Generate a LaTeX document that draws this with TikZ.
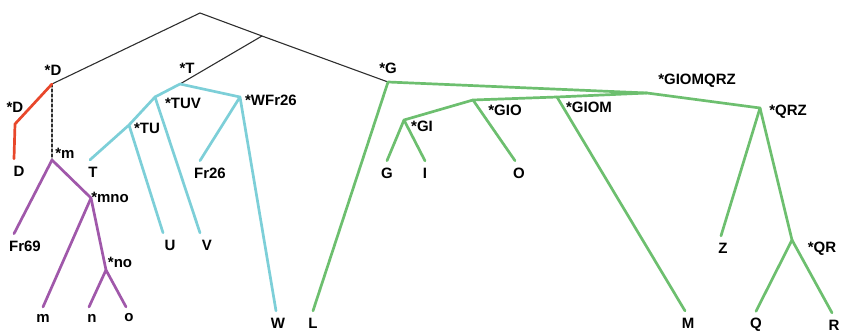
\documentclass[tikz,border=0pt]{standalone}
\usepackage{fontspec}
\setmainfont{Liberation Sans}
\definecolor{cladeRed}{HTML}{E8472B}
\definecolor{cladePurple}{HTML}{A058AA}
\definecolor{cladeCyan}{HTML}{7DCFD8}
\definecolor{cladeGreen}{HTML}{6DBF6F}
\definecolor{stemGray}{HTML}{2E2E2E}
\begin{document}
\begin{tikzpicture}[x=1pt,y=-1pt,font=\bfseries\fontsize{15}{15}\selectfont,line join=round,line cap=round]
  \tikzset{tag/.style={inner sep=0pt},
    leaf/.style={inner sep=1pt, outer sep=6pt},
    stem/.style={draw=stemGray, line width=1.1pt},
    redline/.style={draw=cladeRed, line width=2.7pt},
    purpleline/.style={draw=cladePurple, line width=2.7pt},
    cyanline/.style={draw=cladeCyan, line width=2.7pt},
    greenline/.style={draw=cladeGreen, line width=2.7pt}}
  \useasboundingbox (0,0) rectangle (841,334);
  % branch points
  \coordinate (root) at (200,13);
  \coordinate (rj) at (262,36);
  \coordinate (cD) at (52,84);
  \coordinate (cDp) at (15,124);
  \coordinate (cm) at (52,160);
  \coordinate (cmno) at (91,198);
  \coordinate (cno) at (106,270);
  \coordinate (cT) at (180,84);
  \coordinate (cTUV) at (155,97);
  \coordinate (cTU) at (129,125);
  \coordinate (cWFr) at (240,97);
  \coordinate (cG) at (388,82);
  \coordinate (cGIOMQRZ) at (647,93);
  \coordinate (cGIOM) at (557,97);
  \coordinate (cGIO) at (473,100);
  \coordinate (cGI) at (404,120);
  \coordinate (cQRZ) at (760,108);
  \coordinate (cQR) at (792,240);
  % clade tags
  \node[tag] (tD) at (53,70) {*D};
  \node[tag] (tDp) at (15,107) {*D};
  \node[tag] (tm) at (65,153) {*m};
  \node[tag] (tmno) at (110,197) {*mno};
  \node[tag] (tno) at (120,262) {*no};
  \node[tag] (tT) at (187,68) {*T};
  \node[tag] (tTUV) at (183,103) {*TUV};
  \node[tag] (tTU) at (147,128) {*TU};
  \node[tag] (tWFr) at (271,100) {*WFr26};
  \node[tag] (tG) at (388,68) {*G};
  \node[tag] (tGI) at (422,126) {*GI};
  \node[tag] (tGIO) at (505,110) {*GIO};
  \node[tag] (tGIOM) at (589,107) {*GIOM};
  \node[tag] (tGIOMQRZ) at (697,81) {*GIOMQRZ};
  \node[tag] (tQRZ) at (788,112) {*QRZ};
  \node[tag] (tQR) at (822,249) {*QR};
  % leaves
  \node[leaf] (D) at (19,171) {D};
  \node[leaf] (Fr69) at (25,246) {Fr69};
  \node[leaf] (m) at (43,318) {m};
  \node[leaf] (n) at (92,318) {n};
  \node[leaf] (o) at (129,318) {o};
  \node[leaf] (T) at (93,172) {T};
  \node[leaf] (U) at (170,245) {U};
  \node[leaf] (V) at (207,245) {V};
  \node[leaf] (Fr26) at (210,173) {Fr26};
  \node[leaf] (W) at (278,323) {W};
  \node[leaf] (L) at (313,323) {L};
  \node[leaf] (G) at (387,173) {G};
  \node[leaf] (I) at (425,173) {I};
  \node[leaf] (O) at (519,173) {O};
  \node[leaf] (M) at (688,323) {M};
  \node[leaf] (Z) at (723,248) {Z};
  \node[leaf] (Q) at (756,325) {Q};
  \node[leaf] (R) at (834,325) {R};
  % backbone
  \draw[stem] (cD) -- (root) -- (rj) -- (cG);
  \draw[stem] (rj) -- (cT);
  \draw[stem, densely dashed] (cD) -- (cm);
  % D
  \draw[redline] (cD) -- (cDp) -- ([xshift=-5pt]D.north);
  % m
  \draw[purpleline] ([xshift=-11pt]Fr69.north) -- (cm) -- (cmno) -- (cno) -- ([xshift=-3pt]o.north);
  \draw[purpleline] (cmno) -- (m.north);
  \draw[purpleline] (cno) -- ([xshift=-3pt]n.north);
  % T
  \draw[cyanline] (cTU) -- (cTUV) -- (cT) -- (cWFr) -- ([xshift=-2pt]W.north);
  \draw[cyanline] ([xshift=-3pt]T.north) -- (cTU) -- ([xshift=-7pt]U.north);
  \draw[cyanline] (cTUV) -- ([xshift=-7pt]V.north);
  \draw[cyanline] (cWFr) -- ([xshift=-10pt]Fr26.north);
  % G
  \draw[greenline] (L.north) -- (cG) -- (cGIOMQRZ) -- (cQRZ);
  \draw[greenline] (cGIOMQRZ) -- (cGIOM) -- (cGIO) -- (cGI) -- (G.north);
  \draw[greenline] (cGI) -- (I.north);
  \draw[greenline] (cGIO) -- ([xshift=-4pt]O.north);
  \draw[greenline] (cGIOM) -- ([xshift=-3pt]M.north);
  \draw[greenline] (cQRZ) -- ([xshift=-2pt]Z.north);
  \draw[greenline] (cQRZ) -- (cQR) -- (Q.north);
  \draw[greenline] (cQR) -- ([xshift=-2pt]R.north);
\end{tikzpicture}
\end{document}
